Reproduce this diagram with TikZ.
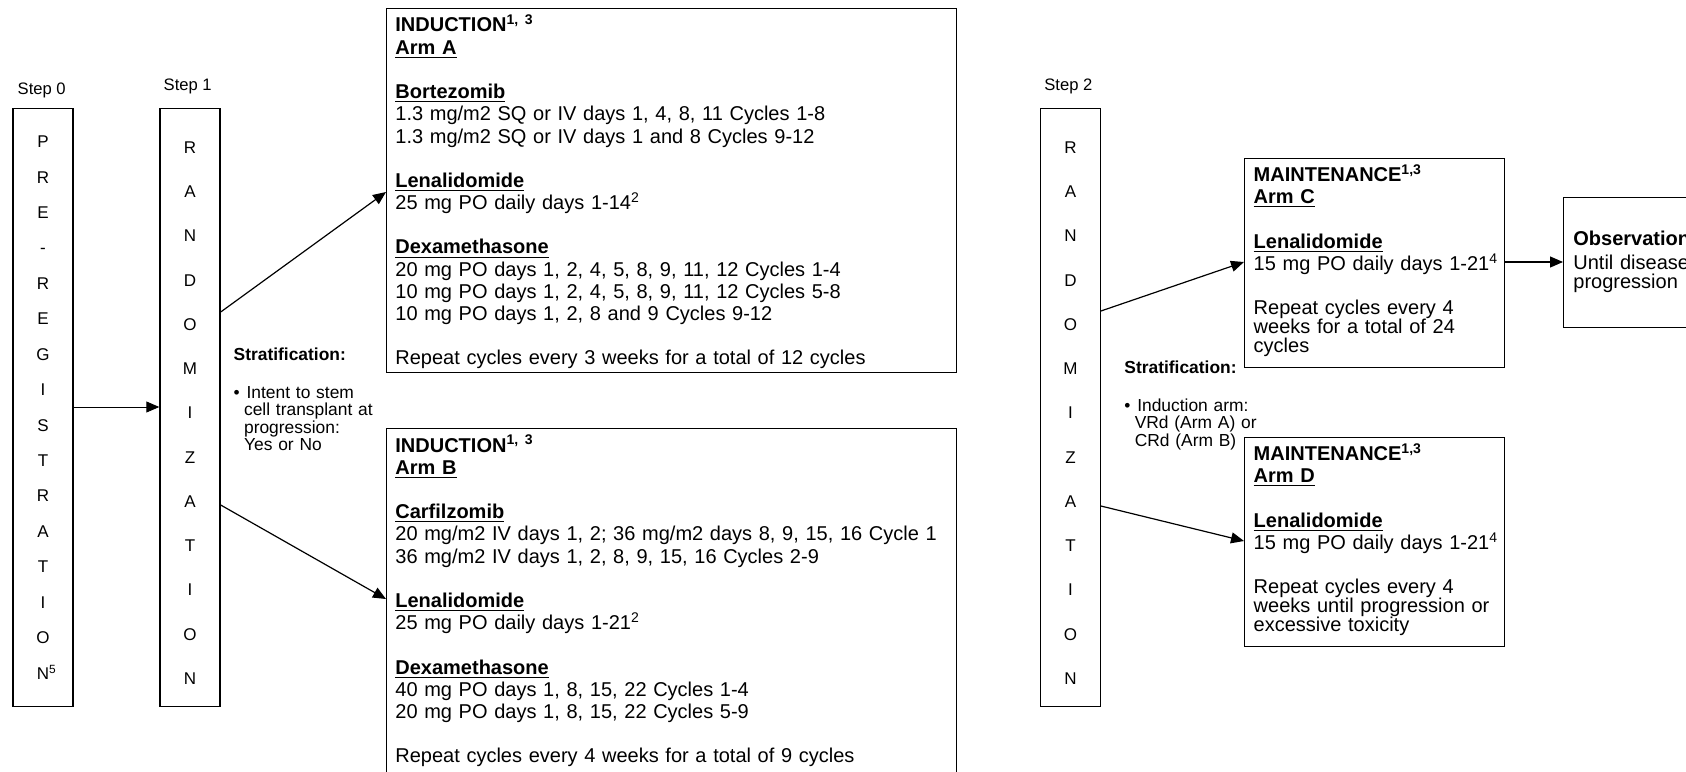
\documentclass[tikz,border=0pt]{standalone}
\usepackage{fontspec}
\setmainfont{Liberation Sans}
\usetikzlibrary{arrows.meta}

\begin{document}
\begin{tikzpicture}[
		x=0.5pt, y=-0.5pt,
		box/.style = {draw, line width=0.7pt, anchor=north west, inner sep=0pt},
		col/.style = {align=center, text width=25pt, inner sep=0pt, font=\fontsize{8.5}{#1}\selectfont},
		txt/.style = {anchor=base west, align=left, text width=290pt, inner sep=0pt, font=\fontsize{10}{11.1}\selectfont},
		strat/.style = {anchor=base west, align=left, text width=80pt, inner sep=0pt, font=\fontsize{8.7}{8.8}\selectfont},
		steplbl/.style = {anchor=base, inner sep=0pt, font=\fontsize{8.3}{10}\selectfont},
		arr/.style = {-{Triangle[length=6.5pt, width=5.5pt]}, line width=0.6pt}
	]
	\useasboundingbox (0,0) rectangle (1686,771);

	\node[box, minimum width=30pt, minimum height=298.85pt] (reg) at (12.3,108) {};
	\node[box, minimum width=30pt, minimum height=298.85pt] (rand1) at (159.3,108) {};
	\node[box, minimum width=29.75pt, minimum height=299pt] (rand2) at (1040,108) {};
	\node[box, minimum width=285pt, minimum height=182pt] (indA) at (386,8) {};
	\node[box, minimum width=285pt, minimum height=190pt] (indB) at (386,428) {};
	\node[box, minimum width=130pt, minimum height=104.5pt] (mainC) at (1244,157.5) {};
	\node[box, minimum width=130pt, minimum height=104.5pt] (mainD) at (1244,437) {};
	\node[box, minimum width=100pt, minimum height=65pt] (obs) at (1563,197) {};

	\node[steplbl] (step0) at (41.7,94.3) {Step 0};
	\node[steplbl] (step1) at (187.7,90.7) {Step 1};
	\node[steplbl] (step2) at (1068.4,90.7) {Step 2};

	\node[col=17.72pt] (regtxt) at (reg.center) {P\\R\\E\\-\\R\\E\\G\\I\\S\\T\\R\\A\\T\\I\\O\\N\rlap{\textsuperscript{5}}};
	\node[col=22.13pt] (rand1txt) at ([yshift=-2.7pt]rand1.center) {R\\A\\N\\D\\O\\M\\I\\Z\\A\\T\\I\\O\\N};
	\node[col=22.13pt] (rand2txt) at ([yshift=-2.7pt]rand2.center) {R\\A\\N\\D\\O\\M\\I\\Z\\A\\T\\I\\O\\N};

	\node[txt] (txtA) at (395,32) {\textbf{INDUCTION\textsuperscript{1, 3}}\\
		\textbf{\underline{Arm A}}\\[11.1pt]
		\textbf{\underline{Bortezomib}}\\
		1.3 mg/m2 SQ or IV days 1, 4, 8, 11 Cycles 1-8\\
		1.3 mg/m2 SQ or IV days 1 and 8 Cycles 9-12\\[11.1pt]
		\textbf{\underline{Lenalidomide}}\\
		25 mg PO daily days 1-14\textsuperscript{2}\\[11.1pt]
		\textbf{\underline{Dexamethasone}}\\
		20 mg PO days 1, 2, 4, 5, 8, 9, 11, 12 Cycles 1-4\\
		10 mg PO days 1, 2, 4, 5, 8, 9, 11, 12 Cycles 5-8\\
		10 mg PO days 1, 2, 8 and 9 Cycles 9-12\\[11.1pt]
		Repeat cycles every 3 weeks for a total of 12 cycles};
	\node[txt] (txtB) at (395,452) {\textbf{INDUCTION\textsuperscript{1, 3}}\\
		\textbf{\underline{Arm B}}\\[11.1pt]
		\textbf{\underline{Carfilzomib}}\\
		20 mg/m2 IV days 1, 2; 36 mg/m2 days 8, 9, 15, 16 Cycle 1\\
		36 mg/m2 IV days 1, 2, 8, 9, 15, 16 Cycles 2-9\\[11.1pt]
		\textbf{\underline{Lenalidomide}}\\
		25 mg PO daily days 1-21\textsuperscript{2}\\[11.1pt]
		\textbf{\underline{Dexamethasone}}\\
		40 mg PO days 1, 8, 15, 22 Cycles 1-4\\
		20 mg PO days 1, 8, 15, 22 Cycles 5-9\\[11.1pt]
		Repeat cycles every 4 weeks for a total of 9 cycles};
	\node[txt] (txtC) at (1253.3,181.7) {\textbf{MAINTENANCE\textsuperscript{1,3}}\\
		\textbf{\underline{Arm C}}\\[11.1pt]
		\textbf{\underline{Lenalidomide}}\\
		15 mg PO daily days 1-21\textsuperscript{4}\\[11.1pt]
		Repeat cycles every 4\\[-1.6pt]
		weeks for a total of 24\\[-1.6pt]
		cycles};
	\node[txt] (txtD) at (1253.3,460.7) {\textbf{MAINTENANCE\textsuperscript{1,3}}\\
		\textbf{\underline{Arm D}}\\[11.1pt]
		\textbf{\underline{Lenalidomide}}\\
		15 mg PO daily days 1-21\textsuperscript{4}\\[11.1pt]
		Repeat cycles every 4\\[-1.6pt]
		weeks until progression or\\[-1.6pt]
		excessive toxicity};
	\node[txt] (txtobs) at (1573,245) {\textbf{Observation}\\[1pt]
		Until disease\\[-1.6pt]
		progression};

	\node[strat] (strat1) at (233.3,360) {\textbf{Stratification:}\\[10.2pt]
		\textbullet\hspace{3.4pt}Intent to stem\\
		\hspace*{5.2pt}cell transplant at\\
		\hspace*{5.2pt}progression:\\
		\hspace*{5.2pt}Yes or No};
	\node[strat] (strat2) at (1124,373) {\textbf{Stratification:}\\[10.2pt]
		\textbullet\hspace{3.4pt}Induction arm:\\
		\hspace*{5.2pt}VRd (Arm A) or\\
		\hspace*{5.2pt}CRd (Arm B)};

	\draw[arr, line width=0.45pt] (reg.east |- 0,407) -- (rand1.west |- 0,407);
	\draw[arr] (rand1.east |- 0,312) -- (indA.west |- 0,192);
	\draw[arr] (rand1.east |- 0,505) -- (indB.west |- 0,599);
	\draw[arr] (rand2.east |- 0,311) -- (mainC.west |- 0,262);
	\draw[arr] (rand2.east |- 0,506) -- (mainD.west |- 0,541);
	\draw[arr] (mainC.east |- 0,262) -- (obs.west |- 0,262);
\end{tikzpicture}
\end{document}
